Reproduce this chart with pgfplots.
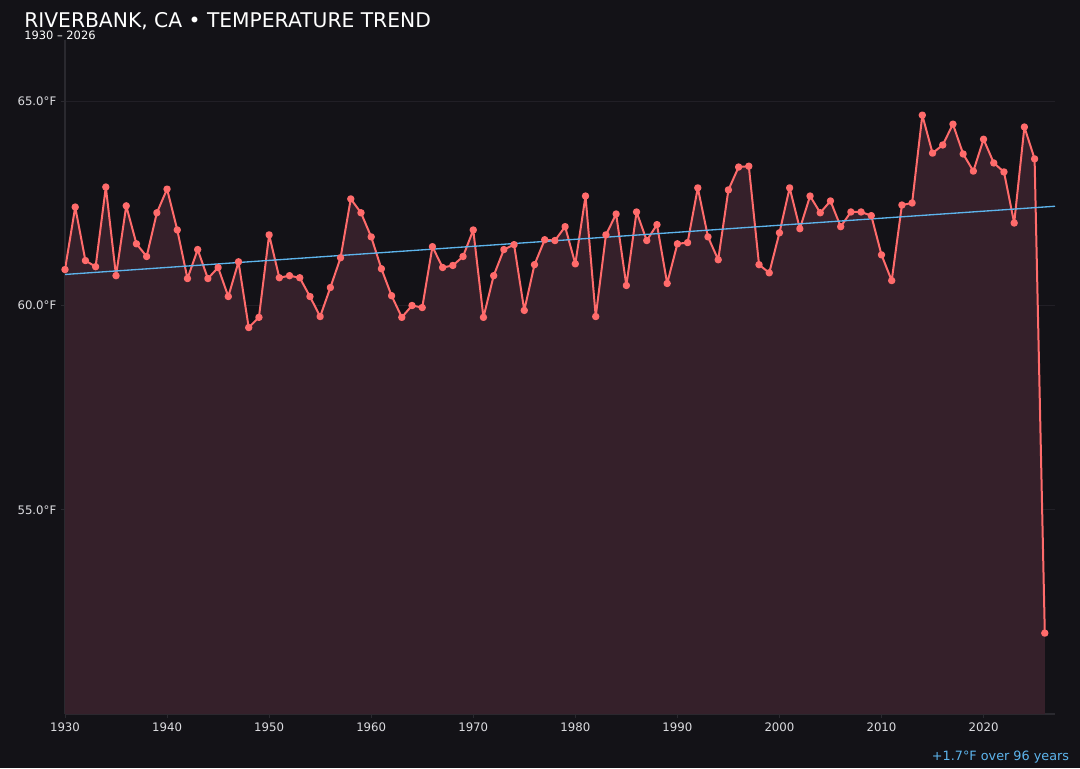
\documentclass[border=0pt]{standalone}
\usepackage{fontspec}
\setmainfont{DejaVu Sans}
\usepackage{pgfplots}
\pgfplotsset{compat=1.18}
\definecolor{bg}{HTML}{131217}
\definecolor{areafill}{HTML}{35202A}
\definecolor{templine}{HTML}{FF6B6B}
\definecolor{trendline}{HTML}{5DB4EC}
\definecolor{spine}{HTML}{2A292F}
\definecolor{gridc}{HTML}{211F26}
\definecolor{ticktext}{HTML}{DCDCE0}

\begin{document}
\begin{tikzpicture}[x=1pt,y=1pt]
\fill[bg] (0,0) rectangle (810,576);
\useasboundingbox (0,0) rectangle (810,576);
\begin{axis}[
    at={(48.75pt,40.5pt)}, anchor=south west,
    scale only axis,
    width=742.5pt, height=505.5pt,
    xmin=1930, xmax=2027,
    ymin=50, ymax=66.5,
    axis lines*=left,
    axis line style={spine, line width=0.8pt},
    every outer x axis line/.append style={-},
    every outer y axis line/.append style={-},
    xtick={1930,1940,1950,1960,1970,1980,1990,2000,2010,2020},
    xticklabels={1930,1940,1950,1960,1970,1980,1990,2000,2010,2020},
    ytick={55,60,65},
    yticklabels={55.0°F,60.0°F,65.0°F},
    tick style={spine, line width=0.6pt},
    major tick length=3pt,
    tick align=outside,
    ymajorgrids,
    grid style={gridc, line width=0.6pt},
    tick label style={ticktext, font=\fontsize{8.8}{10}\selectfont},
    /pgf/number format/assume math mode=true,
    clip=true,
]
\addplot[fill=areafill, draw=none, forget plot] coordinates {
(1930,60.88) (1931,62.41) (1932,61.10) (1933,60.95) (1934,62.90)
(1935,60.73) (1936,62.44) (1937,61.51) (1938,61.20) (1939,62.27)
(1940,62.85) (1941,61.85) (1942,60.66) (1943,61.37) (1944,60.66)
(1945,60.93) (1946,60.22) (1947,61.07) (1948,59.46) (1949,59.71)
(1950,61.73) (1951,60.68) (1952,60.73) (1953,60.68) (1954,60.22)
(1955,59.73) (1956,60.44) (1957,61.17) (1958,62.61) (1959,62.27)
(1960,61.68) (1961,60.90) (1962,60.24) (1963,59.71) (1964,60.00)
(1965,59.95) (1966,61.44) (1967,60.93) (1968,60.98) (1969,61.20)
(1970,61.85) (1971,59.71) (1972,60.73) (1973,61.37) (1974,61.49)
(1975,59.88) (1976,61.00) (1977,61.61) (1978,61.59) (1979,61.93)
(1980,61.02) (1981,62.68) (1982,59.73) (1983,61.73) (1984,62.24)
(1985,60.49) (1986,62.29) (1987,61.59) (1988,61.98) (1989,60.54)
(1990,61.51) (1991,61.54) (1992,62.88) (1993,61.68) (1994,61.12)
(1995,62.83) (1996,63.39) (1997,63.41) (1998,61.00) (1999,60.80)
(2000,61.78) (2001,62.88) (2002,61.88) (2003,62.68) (2004,62.27)
(2005,62.56) (2006,61.93) (2007,62.29) (2008,62.29) (2009,62.20)
(2010,61.24) (2011,60.61) (2012,62.46) (2013,62.51) (2014,64.66)
(2015,63.73) (2016,63.93) (2017,64.44) (2018,63.71) (2019,63.29)
(2020,64.07) (2021,63.49) (2022,63.27) (2023,62.02) (2024,64.37)
(2025,63.59) (2026,51.98)
} \closedcycle;
\addplot[templine, line width=1.5pt, line join=round, line cap=round,
    mark=*, mark size=2pt,
    mark options={fill=templine, draw=none}] coordinates {
(1930,60.88) (1931,62.41) (1932,61.10) (1933,60.95) (1934,62.90)
(1935,60.73) (1936,62.44) (1937,61.51) (1938,61.20) (1939,62.27)
(1940,62.85) (1941,61.85) (1942,60.66) (1943,61.37) (1944,60.66)
(1945,60.93) (1946,60.22) (1947,61.07) (1948,59.46) (1949,59.71)
(1950,61.73) (1951,60.68) (1952,60.73) (1953,60.68) (1954,60.22)
(1955,59.73) (1956,60.44) (1957,61.17) (1958,62.61) (1959,62.27)
(1960,61.68) (1961,60.90) (1962,60.24) (1963,59.71) (1964,60.00)
(1965,59.95) (1966,61.44) (1967,60.93) (1968,60.98) (1969,61.20)
(1970,61.85) (1971,59.71) (1972,60.73) (1973,61.37) (1974,61.49)
(1975,59.88) (1976,61.00) (1977,61.61) (1978,61.59) (1979,61.93)
(1980,61.02) (1981,62.68) (1982,59.73) (1983,61.73) (1984,62.24)
(1985,60.49) (1986,62.29) (1987,61.59) (1988,61.98) (1989,60.54)
(1990,61.51) (1991,61.54) (1992,62.88) (1993,61.68) (1994,61.12)
(1995,62.83) (1996,63.39) (1997,63.41) (1998,61.00) (1999,60.80)
(2000,61.78) (2001,62.88) (2002,61.88) (2003,62.68) (2004,62.27)
(2005,62.56) (2006,61.93) (2007,62.29) (2008,62.29) (2009,62.20)
(2010,61.24) (2011,60.61) (2012,62.46) (2013,62.51) (2014,64.66)
(2015,63.73) (2016,63.93) (2017,64.44) (2018,63.71) (2019,63.29)
(2020,64.07) (2021,63.49) (2022,63.27) (2023,62.02) (2024,64.37)
(2025,63.59) (2026,51.98)
};
% linear trend
\addplot[trendline, line width=1pt] coordinates {(1930,60.76) (2027,62.43)};
\end{axis}
\node[anchor=base west, white, font=\fontsize{15.2}{18}\selectfont, inner sep=0pt]
    at (18,555.5) {RIVERBANK, CA • TEMPERATURE TREND};
\node[anchor=base west, white, font=\fontsize{8.6}{10}\selectfont, inner sep=0pt]
    at (18,546.5) {1930 – 2026};
\node[anchor=base east, trendline, font=\fontsize{9.6}{11}\selectfont, inner sep=0pt]
    at (802,6) {+1.7°F over 96 years};
\end{tikzpicture}
\end{document}
